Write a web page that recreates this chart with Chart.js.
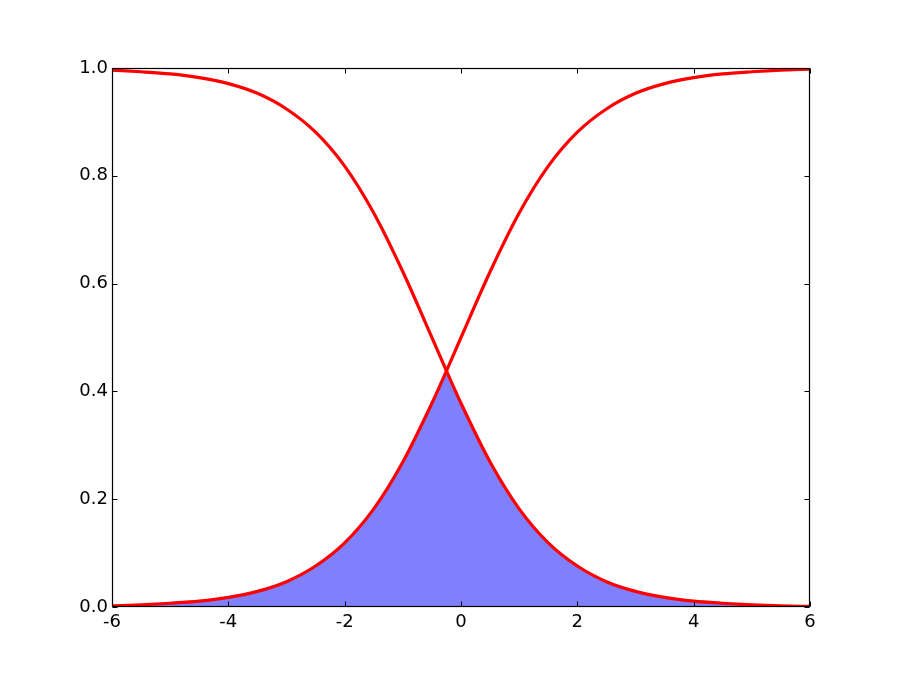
<!DOCTYPE html>
<html>
<head>
<meta charset="utf-8">
<script src="https://cdn.jsdelivr.net/npm/chart.js@4.4.1/dist/chart.umd.min.js"></script>
<style>
  html, body { margin: 0; padding: 0; background: #ffffff; }
  #wrap { width: 900px; height: 675px; }
</style>
</head>
<body>
<div id="wrap"><canvas id="c" width="900" height="675"></canvas></div>
<script>
// ---- data ----
const xValues   = [-6, -5.5, -5, -4.5, -4, -3.5, -3, -2.5, -2, -1.5, -1, -0.5, -0.25, 0, 0.5, 1, 1.5, 2, 2.5, 3, 3.5, 4, 4.5, 5, 5.5, 6];
const risingY   = [0.002, 0.004, 0.007, 0.011, 0.018, 0.029, 0.047, 0.076, 0.119, 0.182, 0.269, 0.378, 0.438, 0.500, 0.622, 0.731, 0.818, 0.881, 0.924, 0.953, 0.971, 0.982, 0.989, 0.993, 0.996, 0.998];
const fallingY  = [0.996, 0.993, 0.989, 0.982, 0.971, 0.953, 0.924, 0.881, 0.818, 0.731, 0.622, 0.500, 0.438, 0.378, 0.269, 0.182, 0.119, 0.076, 0.047, 0.029, 0.018, 0.011, 0.007, 0.004, 0.002, 0.001];
const crossX    = -0.25;
const xTicks    = [-6, -4, -2, 0, 2, 4, 6];
const yTicks    = [0.0, 0.2, 0.4, 0.6, 0.8, 1.0];

// ---- build library data ----
const risePts = xValues.map((x, i) => ({x, y: risingY[i]}));
const fallPts = xValues.map((x, i) => ({x, y: fallingY[i]}));
const fillLeft  = risePts.filter(p => p.x <= crossX);
const fillRight = fallPts.filter(p => p.x >= crossX);
const crossY = risingY[xValues.indexOf(crossX)];
const seamPts = [{x: crossX, y: 0}, {x: crossX, y: crossY}];

const FONT = {family: "'DejaVu Sans', sans-serif", size: 18};
const FILL = '#8080ff';

const frameTicks = {
  id: 'frameTicks',
  afterDatasetsDraw(chart) {
    const {ctx, chartArea: a, scales} = chart;
    ctx.save();
    ctx.strokeStyle = '#000000';
    ctx.lineWidth = 1.2;
    const L = Math.round(a.left) + 0.5, R = Math.round(a.right) - 0.5;
    const T = Math.round(a.top) + 0.5, B = Math.round(a.bottom) - 0.5;
    ctx.strokeRect(L, T, R - L, B - T);
    const len = 5;
    ctx.lineWidth = 1;
    ctx.beginPath();
    xTicks.forEach(v => {
      const px = Math.round(scales.x.getPixelForValue(v)) + 0.5;
      ctx.moveTo(px, B); ctx.lineTo(px, B - len);
      ctx.moveTo(px, T); ctx.lineTo(px, T + len);
    });
    yTicks.forEach(v => {
      const py = Math.round(scales.y.getPixelForValue(v)) + 0.5;
      ctx.moveTo(L, py); ctx.lineTo(L + len, py);
      ctx.moveTo(R, py); ctx.lineTo(R - len, py);
    });
    ctx.stroke();
    ctx.restore();
  }
};

new Chart(document.getElementById('c'), {
  type: 'line',
  data: {
    datasets: [
      { data: risePts, borderColor: '#ff0000', borderWidth: 3.2, pointRadius: 0, fill: false,
        cubicInterpolationMode: 'monotone', order: 0, clip: 0 },
      { data: fallPts, borderColor: '#ff0000', borderWidth: 3.2, pointRadius: 0, fill: false,
        cubicInterpolationMode: 'monotone', order: 0, clip: 0 },
      { data: seamPts, borderColor: FILL, borderWidth: 2, pointRadius: 0, fill: false, order: 1, clip: 0 },
      { data: fillLeft, borderWidth: 0, borderColor: 'rgba(0,0,0,0)', backgroundColor: FILL,
        pointRadius: 0, fill: 'origin', cubicInterpolationMode: 'monotone', order: 1, clip: 0 },
      { data: fillRight, borderWidth: 0, borderColor: 'rgba(0,0,0,0)', backgroundColor: FILL,
        pointRadius: 0, fill: 'origin', cubicInterpolationMode: 'monotone', order: 1, clip: 0 }
    ]
  },
  options: {
    responsive: false,
    animation: false,
    events: [],
    layout: { padding: { top: 68, right: 90, left: 0, bottom: 0 } },
    plugins: { legend: { display: false }, tooltip: { enabled: false } },
    scales: {
      x: {
        type: 'linear', min: -6, max: 6,
        grid: { display: false, drawTicks: false },
        border: { display: false },
        afterBuildTicks(s) { s.ticks = xTicks.map(v => ({value: v})); },
        afterFit(s) { s.height = 68; },
        ticks: { font: FONT, color: '#000000', padding: 5, autoSkip: false, maxRotation: 0,
                 callback: v => String(v) }
      },
      y: {
        type: 'linear', min: 0, max: 1,
        grid: { display: false, drawTicks: false },
        border: { display: false },
        afterBuildTicks(s) { s.ticks = yTicks.map(v => ({value: v})); },
        afterFit(s) { s.width = 112; },
        ticks: { font: FONT, color: '#000000', padding: 4, autoSkip: false,
                 callback: v => Number(v).toFixed(1) }
      }
    }
  },
  plugins: [frameTicks]
});
</script>
</body>
</html>
